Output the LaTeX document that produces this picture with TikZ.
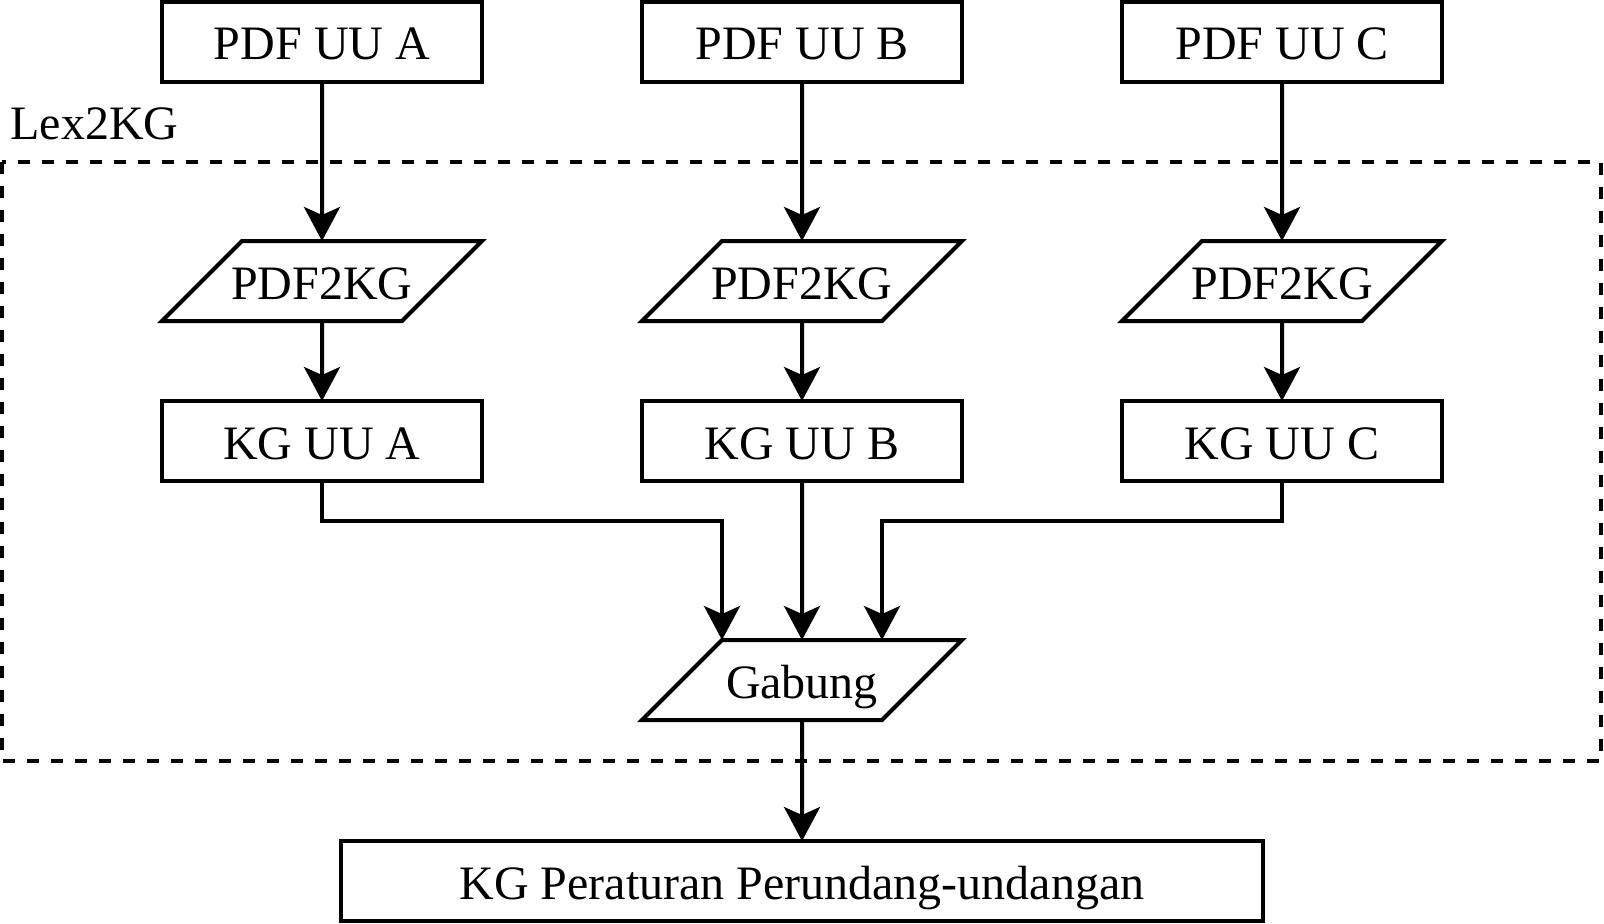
\documentclass[tikz,border=0pt]{standalone}
\usepackage{fontspec}
\setmainfont{Liberation Serif}
\usetikzlibrary{shapes.geometric, arrows.meta, positioning}
\tikzset{
  docbox/.style={rectangle, draw, line width=2pt, outer sep=0pt,
                 minimum width=160pt, minimum height=40pt, inner sep=0pt,
                 text height=18pt, text depth=0pt,
                 font=\fontsize{24pt}{28pt}\selectfont},
  procbox/.style={trapezium, trapezium left angle=45, trapezium right angle=135,
                  trapezium stretches body, draw, line width=2pt, outer sep=0pt,
                  minimum width=160pt, inner xsep=-6pt, inner ysep=11pt,
                  text height=18pt, text depth=0pt,
                  font=\fontsize{24pt}{28pt}\selectfont},
  widebox/.style={docbox, minimum width=461pt},
  flow/.style={-{Stealth[length=17pt, width=18pt, inset=4pt]}, line width=2pt},
  groupframe/.style={draw, line width=2pt, dash pattern=on 6pt off 6pt},
}
\begin{document}
\begin{tikzpicture}[x=0.5pt, y=-0.5pt]
  \useasboundingbox (0,0) rectangle (1604,924);

  % inputs
  \node[docbox] (pdfa) at (322,42) {PDF UU A};
  \node[docbox] (pdfb) at (802,42) {PDF UU B};
  \node[docbox] (pdfc) at (1282,42) {PDF UU C};

  % Lex2KG group
  \draw[groupframe] (2,162) rectangle (1601,761);
  \node[anchor=base west, inner sep=0pt, font=\fontsize{24pt}{28pt}\selectfont]
    (lexlabel) at (10,140) {Lex2KG};

  \node[procbox, below=79.5pt of pdfa] (conva) {PDF2KG};
  \node[procbox, below=79.5pt of pdfb] (convb) {PDF2KG};
  \node[procbox, below=79.5pt of pdfc] (convc) {PDF2KG};

  \node[docbox, below=40pt of conva] (kga) {KG UU A};
  \node[docbox, below=40pt of convb] (kgb) {KG UU B};
  \node[docbox, below=40pt of convc] (kgc) {KG UU C};

  \node[procbox, below=79.5pt of kgb] (merge) {Gabung};

  % output
  \node[widebox, below=60.5pt of merge] (kgall) {KG Peraturan Perundang-undangan};

  \draw[flow] (pdfa) -- (conva);
  \draw[flow] (pdfb) -- (convb);
  \draw[flow] (pdfc) -- (convc);
  \draw[flow] (conva) -- (kga);
  \draw[flow] (convb) -- (kgb);
  \draw[flow] (convc) -- (kgc);

  \draw[flow] (kga.south) -- ++(0,-20pt) -| ([xshift=-40pt]merge.north);
  \draw[flow] (kgb) -- (merge);
  \draw[flow] (kgc.south) -- ++(0,-20pt) -| ([xshift=40pt]merge.north);
  \draw[flow] (merge) -- (kgall);
\end{tikzpicture}
\end{document}
